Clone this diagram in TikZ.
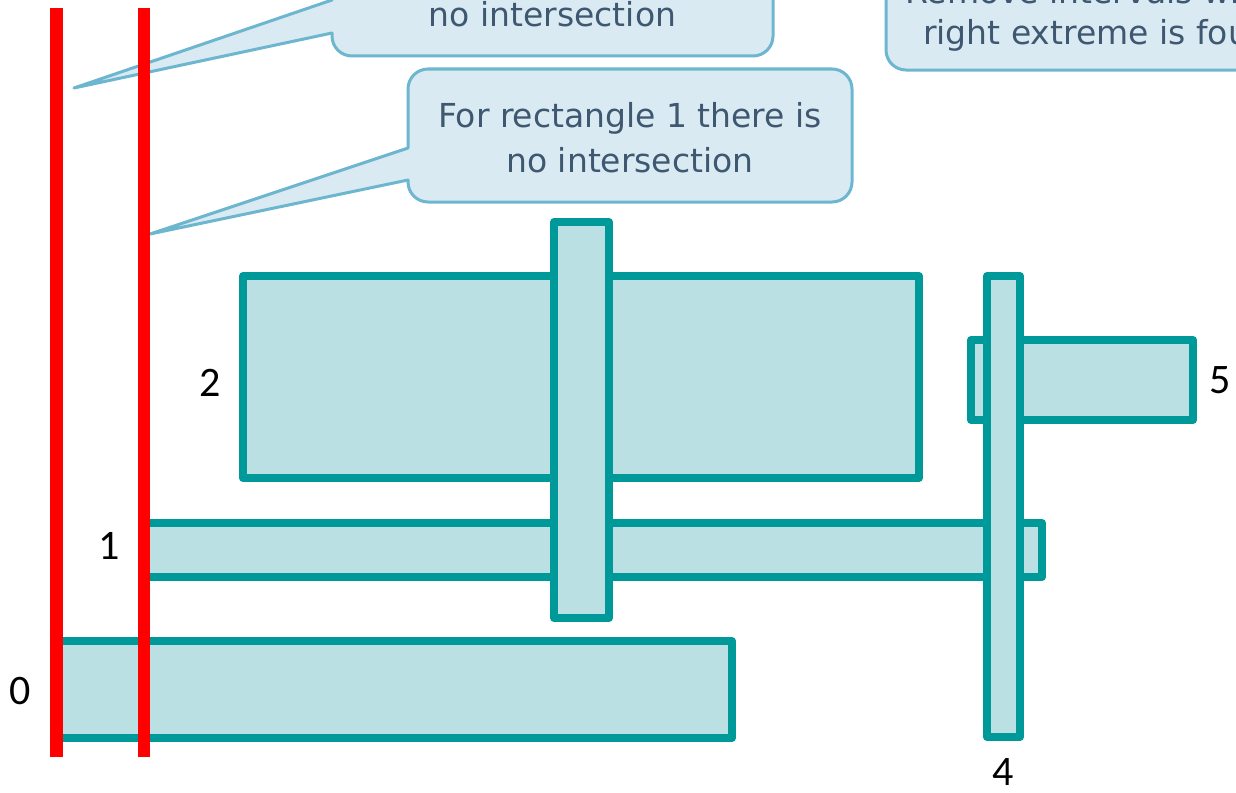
\documentclass[tikz,border=0pt]{standalone}
\usepackage{fontspec}
\newfontfamily\callfont{DejaVu Sans}
\newfontfamily\labfont{Carlito}
\definecolor{barline}{HTML}{009999}
\definecolor{barfill}{HTML}{BBE0E3}
\definecolor{calloutfill}{HTML}{DAEAF2}
\definecolor{calloutline}{HTML}{6CB6CF}
\definecolor{callouttext}{HTML}{3E5871}
\definecolor{sweepred}{HTML}{FF0000}
\tikzset{
  bar/.style={draw=barline, fill=barfill, line width=8pt, line join=round,
    rectangle, inner sep=0pt, outer sep=0pt},
  lab/.style={font=\labfont\fontsize{42}{42}\selectfont, text=black, inner sep=0pt},
  callout/.style={draw=calloutline, fill=calloutfill, line width=3pt, line join=round},
  ctext/.style={font=\callfont\fontsize{33}{45}\selectfont, text=callouttext,
    inner sep=0pt, anchor=base},
  sweep/.style={draw=sweepred, line width=12.5pt}
}
\begin{document}
\begin{tikzpicture}[x=1pt,y=-1pt]
\useasboundingbox (0,0) rectangle (1236,792);

% intervals (rectangles) in drawing order
\node[bar, minimum width=678pt, minimum height=97pt]  (r0) at (393,689.5) {};
\node[bar, minimum width=896pt, minimum height=54pt]  (r1) at (594,550) {};
\node[bar, minimum width=676pt, minimum height=202pt] (r2) at (581,377) {};
\node[bar, minimum width=222pt, minimum height=80pt]  (r5) at (1082,380) {};
\node[bar, minimum width=55pt,  minimum height=396pt] (r3) at (581.5,420) {};
\node[bar, minimum width=33pt,  minimum height=461pt] (r4) at (1003.5,506.5) {};

% rectangle numbers
\node[lab] (l0) at (20,691) {0};
\node[lab] (l1) at (109,546) {1};
\node[lab] (l2) at (210,383) {2};
\node[lab] (l4) at (1003,772) {4};
\node[lab] (l5) at (1220,380) {5};

% pointer tips of the callouts
\coordinate (tipA) at (74,88);
\coordinate (tipB) at (150,234);

% callout for rectangle 0
\draw[callout] (tipA) -- (332,33) [rounded corners=20pt] -- (332,56) -- (773,56)
  -- (773,-70) -- (332,-70) [sharp corners] -- (332,0) -- cycle;
\node[ctext] (ta2) at (552.5,27) {no intersection};

% callout for rectangle 1
\draw[callout] (tipB) -- (408,180) [rounded corners=20pt] -- (408,202) -- (852,202)
  -- (852,69) -- (408,69) [sharp corners] -- (408,148) -- cycle;
\node[ctext] (tb1) at (630,127) {For rectangle 1 there is};
\node[ctext] (tb2) at (630,172) {no intersection};

% callout about removing intervals
\draw[callout, rounded corners=20pt] (886,-70) rectangle (1330,70);
\node[ctext] (tc1) at (1107,4) {Remove intervals whose};
\node[ctext] (tc2) at (1107,45) {right extreme is found};

% sweep lines
\draw[sweep] (56.5,8) -- (56.5,757);
\draw[sweep] (144,8) -- (144,757);
\end{tikzpicture}
\end{document}
